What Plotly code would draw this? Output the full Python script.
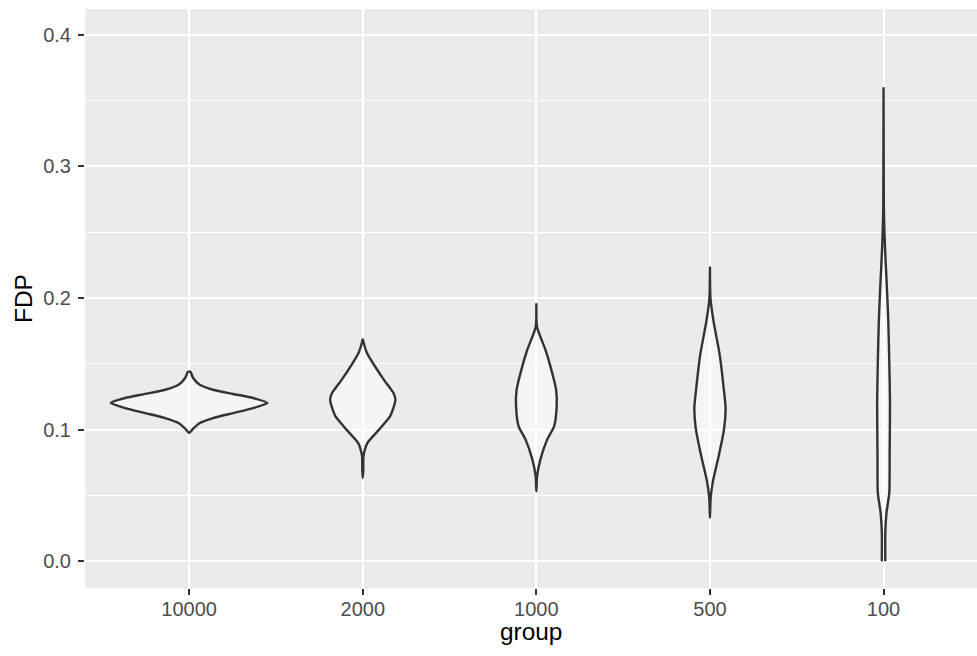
import plotly.graph_objects as go

# ---- data ----
groups = ["10000", "2000", "1000", "500", "100"]

# density profiles: FDP levels (bottom -> top) and violin half-widths (category units)
fdp_10000 = [0.0975, 0.1007, 0.1050, 0.1088, 0.1126, 0.1164, 0.1202, 0.1240, 0.1271, 0.1303, 0.1341, 0.1392, 0.1438, 0.1442]
hw_10000  = [0.0, 0.023, 0.061, 0.138, 0.253, 0.369, 0.451, 0.369, 0.253, 0.138, 0.061, 0.023, 0.008, 0.0]

fdp_2000 = [0.0633, 0.0700, 0.0797, 0.0899, 0.1000, 0.1100, 0.1151, 0.1227, 0.1278, 0.1380, 0.1506, 0.1580, 0.1660, 0.1690]
hw_2000  = [0.0, 0.003, 0.004, 0.027, 0.094, 0.157, 0.173, 0.188, 0.177, 0.121, 0.058, 0.025, 0.005, 0.0]

fdp_1000 = [0.0531, 0.0645, 0.0772, 0.0924, 0.1025, 0.1177, 0.1300, 0.1480, 0.1607, 0.1780, 0.1960]
hw_1000  = [0.0, 0.004, 0.023, 0.062, 0.102, 0.117, 0.114, 0.081, 0.052, 0.004, 0.0]

fdp_500 = [0.0330, 0.0480, 0.0607, 0.0810, 0.1012, 0.1164, 0.1316, 0.1570, 0.1820, 0.2000, 0.2240]
hw_500  = [0.0, 0.004, 0.017, 0.052, 0.082, 0.090, 0.079, 0.056, 0.021, 0.003, 0.0]

fdp_100 = [0.0, 0.0218, 0.0370, 0.0520, 0.0825, 0.1205, 0.1510, 0.1835, 0.2140, 0.2390, 0.2650, 0.2950, 0.3600]
hw_100  = [0.010, 0.010, 0.017, 0.033, 0.035, 0.037, 0.033, 0.027, 0.017, 0.008, 0.002, 0.001, 0.0]

profiles = [(fdp_10000, hw_10000), (fdp_2000, hw_2000), (fdp_1000, hw_1000),
            (fdp_500, hw_500), (fdp_100, hw_100)]

# ---- figure ----
fig = go.Figure()
for i, (g, (ys, hws)) in enumerate(zip(groups, profiles)):
    pos = i + 1
    xs = [pos + w for w in hws] + [pos - w for w in reversed(hws)]
    yy = list(ys) + list(reversed(ys))
    fig.add_trace(go.Scatter(
        x=xs, y=yy, mode="lines", fill="toself",
        fillcolor="rgba(255,255,255,0.5)",
        line=dict(color="#333333", width=2.4, shape="spline", smoothing=0.6),
        name=g, showlegend=False, hoverinfo="skip"))

FONT = "Liberation Sans, Arial, sans-serif"
W, H = 977, 656
ML, MR, MT = 85, 0, 9
ph = 588.5 - 9
MB = H - MT - ph
pw = W - ML - MR

fig.update_layout(
    width=W, height=H,
    margin=dict(l=ML, r=MR, t=MT, b=MB, autoexpand=False),
    paper_bgcolor="white", plot_bgcolor="#EBEBEB",
    font=dict(family=FONT),
    showlegend=False,
    annotations=[
        dict(text="group", xref="paper", yref="paper", x=0.5,
             y=-(632 - (MT + ph)) / ph,
             xanchor="center", yanchor="middle", showarrow=False,
             font=dict(size=24.4, color="black", family=FONT)),
        dict(text="FDP", xref="paper", yref="paper", x=-(ML - 23.5) / pw, y=0.5,
             xanchor="center", yanchor="middle", showarrow=False, textangle=-90,
             font=dict(size=24.4, color="black", family=FONT)),
    ],
)
fig.update_xaxes(
    range=[0.4, 0.4 + pw / 173.6], tickmode="array", tickvals=[1, 2, 3, 4, 5], ticktext=groups,
    showgrid=True, gridcolor="white", gridwidth=2.2, zeroline=False,
    ticks="outside", ticklen=6, tickwidth=2.2, tickcolor="#333333",
    tickfont=dict(size=20, color="#4D4D4D", family=FONT),
    ticklabelstandoff=-3,
    automargin=False, showline=False,
)
fig.update_yaxes(
    range=[-0.0203, 0.4195], tickmode="array", tickvals=[0.0, 0.1, 0.2, 0.3, 0.4],
    ticktext=["0.0", "0.1", "0.2", "0.3", "0.4"],
    showgrid=True, gridcolor="white", gridwidth=2.2, zeroline=False,
    minor=dict(tickmode="array", tickvals=[0.05, 0.15, 0.25, 0.35],
               showgrid=True, gridcolor="white", gridwidth=1.1, ticks=""),
    ticks="outside", ticklen=6, tickwidth=2.2, tickcolor="#333333",
    tickfont=dict(size=20, color="#4D4D4D", family=FONT),
    ticklabelstandoff=3,
    automargin=False, showline=False,
)
fig.write_html(
    "out.html",
    config={"displayModeBar": False},
    post_script="document.body.style.margin='0';document.body.style.overflow='hidden';",
)
